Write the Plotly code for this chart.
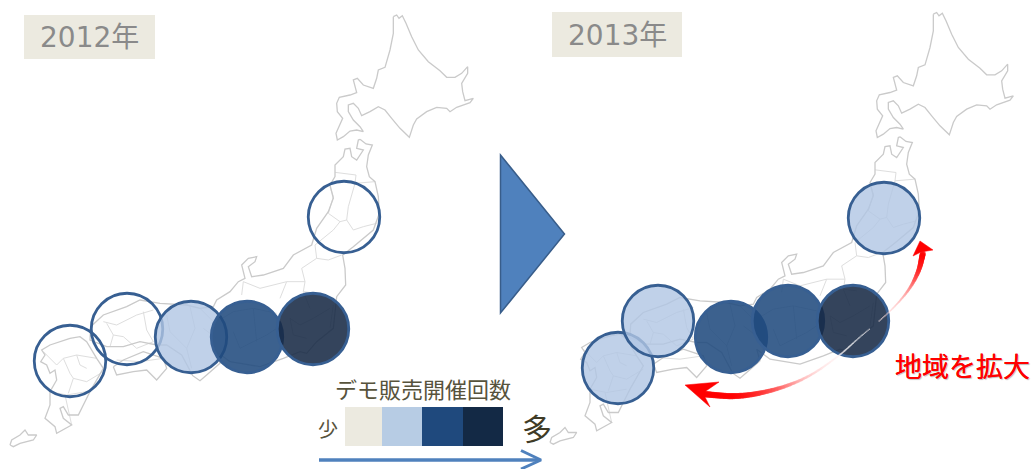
import numpy as np
import plotly.graph_objects as go

# Archipelago outlines, in map units (three units per pixel)
HOKKAIDO = [(1180,50),(1190,45),(1197,55),(1207,47),(1218,70),(1235,110),(1255,150),(1285,185),(1320,212),(1340,232),(1365,232),(1385,220),(1403,200),(1403,220),(1385,250),(1388,275),(1395,302),(1420,295),(1410,308),(1385,318),(1370,322),(1350,335),(1340,325),(1310,322),(1280,335),(1250,357),(1240,375),(1228,412),(1200,385),(1175,355),(1155,330),(1135,320),(1110,335),(1085,347),(1075,325),(1060,310),(1045,315),(1045,335),(1060,360),(1080,380),(1090,395),(1070,390),(1050,393),(1030,410),(1012,420),(1008,400),(1020,370),(1028,355),(1012,335),(1010,310),(1018,292),(1050,285),(1070,278),(1060,240),(1072,235),(1090,255),(1120,265),(1130,235),(1135,210),(1155,202),(1170,150),(1180,100),(1180,50)]
HONSHU = [(1080,418),(1098,432),(1117,435),(1105,465),(1100,500),(1108,530),(1125,545),(1135,590),(1138,640),(1120,690),(1060,740),(1028,765),(1035,805),(1037,855),(1010,890),(1000,985),(950,1025),(920,1060),(900,1055),(850,1075),(780,1100),(690,1085),(650,1055),(660,1090),(620,1125),(600,1142),(578,1127),(545,1065),(500,1035),(470,1035),(420,1025),(370,1040),(320,1040),(270,1020),(272,980),(310,945),(380,920),(420,900),(480,910),(560,915),(600,925),(640,920),(650,900),(690,875),(715,845),(735,835),(725,795),(745,775),(770,770),(765,785),(745,800),(755,830),(790,825),(850,805),(880,765),(935,735),(950,685),(985,635),(1000,595),(990,555),(1005,530),(1005,495),(1030,470),(1035,447),(1050,445),(1055,470),(1070,480),(1090,450),(1070,445),(1075,420),(1080,418)]
SHIKOKU = [(340,1100),(370,1080),(430,1055),(490,1075),(500,1105),(470,1140),(440,1110),(400,1115),(350,1125),(340,1100)]
KYUSHU = [(210,1015),(180,1025),(150,1035),(125,1050),(135,1065),(122,1085),(140,1095),(150,1120),(165,1110),(170,1140),(150,1175),(150,1215),(135,1255),(165,1280),(170,1300),(215,1275),(190,1255),(180,1225),(190,1220),(205,1245),(235,1245),(260,1195),(270,1175),(310,1105),(290,1075),(260,1025),(240,1010),(210,1015)]
OKINAWA = [(30,1335),(35,1320),(60,1305),(75,1290),(85,1305),(110,1305),(100,1320),(60,1330),(40,1340),(30,1335)]
COASTS = [HOKKAIDO, HONSHU, SHIKOKU, KYUSHU, OKINAWA]

# Prefecture borders, same units
BORDERS = [
    [(1005,517),(1068,525),(1065,550),(1125,545)],
    [(1065,550),(1045,620),(1040,660),(1060,690),(1090,680),(1130,670)],
    [(990,560),(1000,590),(985,640),(1020,665),(1040,660)],
    [(1020,665),(1000,690),(945,735),(950,775),(985,780),(1025,765)],
    [(950,775),(905,805),(915,845),(910,875),(950,880)],
    [(915,845),(860,845),(780,865),(730,845),(725,885)],
    [(860,845),(840,895)],
    [(870,955),(900,975),(940,955),(990,925)],
    [(1000,915),(990,985)],
    [(870,955),(880,1005),(920,1015)],
    [(910,875),(930,925)],
    [(650,965),(700,935),(760,925),(830,940)],
    [(700,995),(720,1045),(760,1025),(800,1005),(830,985)],
    [(760,925),(770,1025)],
    [(570,920),(585,985),(560,1045),(575,1105)],
    [(500,945),(510,995),(560,1045)],
    [(610,985),(650,1015)],
    [(600,925),(640,965)],
    [(310,965),(350,975),(410,945),(460,930)],
    [(340,1005),(370,1010),(410,1045),(460,1025)],
    [(320,970),(340,1005),(330,1040)],
    [(430,935),(440,990),(460,1025)],
    [(350,1080),(420,1085),(490,1075)],
    [(130,1055),(170,1095),(190,1075),(230,1065),(290,1075)],
    [(230,1065),(240,1095),(260,1105)],
    [(220,1135),(260,1145),(310,1115)],
    [(190,1075),(210,1120),(220,1135),(205,1180)],
    [(150,1175),(200,1185),(260,1175)],
    [(195,1185),(215,1275)],
]

# Pixel shift of each panel's map
PANEL_X = [0, 540]
PANEL_Y = [0, -2.5]

# Regions ringed in each year, with their demo-sale level (0 = none ... 3 = most)
CIRCLE_X_2012 = [344, 70, 127, 191, 247, 313]
CIRCLE_Y_2012 = [217, 361, 329, 337, 337, 329]
LEVEL_2012 = [0, 0, 0, 1, 2, 3]
CIRCLE_X_2013 = [884, 618, 658, 731, 788, 853]
CIRCLE_Y_2013 = [218, 368, 321, 337, 321, 321]
LEVEL_2013 = [1, 1, 1, 2, 2, 3]
LEVEL_FILLS = ["rgba(255,255,255,0)", "rgba(176,198,227,0.8)",
               "rgba(31,73,125,0.87)", "rgba(22,40,68,0.87)"]
CIRCLE_EDGE = "#375F92"

# Legend
LEGEND_TITLE = "デモ販売開催回数"
LEGEND_LEFT = [345, 382, 422, 463]
LEGEND_RIGHT = [382, 422, 463, 503]
LEGEND_COLORS = ["#ECEAE0", "#B7CCE4", "#1F497D", "#132945"]

YEAR_LABELS = ["2012年", "2013年"]
YEAR_BOX_X = [(24, 155), (552, 682)]
YEAR_BOX_Y = [(15, 59), (12, 57)]

# Two-headed sweep: centre line in pixels, width, and fade toward white
ARC_X = [702, 737, 773, 807, 837, 860, 888, 907, 918, 923]
ARC_Y = [394, 396, 390, 377, 357, 337, 313, 292, 272, 253]
ARC_W = [6.5, 6, 4.5, 2.8, 2, 1.6, 1.6, 2.6, 4.5, 6]
ARC_FADE = [0, 0.02, 0.3, 0.75, 0.95, 1, 0.85, 0.6, 0.2, 0]
ARROW_HEADS = [[(685, 385), (719, 382), (703, 393), (710, 407)],
               [(920, 241), (933, 250), (921, 252), (913, 256)]]


def catmull_rom(values, steps=24):
    """Smooth curve through a list of control values."""
    v = np.array(values, dtype=float)
    v = np.concatenate(([2 * v[0] - v[1]], v, [2 * v[-1] - v[-2]]))
    out = []
    for i in range(1, len(v) - 2):
        t = np.linspace(0, 1, steps, endpoint=False)
        p0, p1, p2, p3 = v[i - 1], v[i], v[i + 1], v[i + 2]
        out.append(0.5 * (2 * p1 + (p2 - p0) * t + (2 * p0 - 5 * p1 + 4 * p2 - p3) * t ** 2
                          + (3 * p1 - p0 - 3 * p2 + p3) * t ** 3))
    return np.concatenate(out)


fig = go.Figure()


def add_line(xs, ys, color, width):
    fig.add_trace(go.Scatter(x=xs, y=ys, mode="lines", hoverinfo="skip", showlegend=False,
                             line=dict(color=color, width=width)))


# Base maps
for dx, dy in zip(PANEL_X, PANEL_Y):
    for border in BORDERS:
        a = np.array(border) / 3
        add_line(a[:, 0] + dx, a[:, 1] + dy, "#DEDEDE", 1)
    for coast in COASTS:
        a = np.array(coast) / 3
        add_line(a[:, 0] + dx, a[:, 1] + dy, "#CACACA", 1.3)

# Region circles
for xs, ys, levels in [(CIRCLE_X_2012, CIRCLE_Y_2012, LEVEL_2012),
                       (CIRCLE_X_2013, CIRCLE_Y_2013, LEVEL_2013)]:
    fig.add_trace(go.Scatter(
        x=xs, y=ys, mode="markers", hoverinfo="skip", showlegend=False,
        marker=dict(size=71.5, color=[LEVEL_FILLS[v] for v in levels],
                    line=dict(color=CIRCLE_EDGE, width=2.8))))

# Sweep with red ends fading to white in the middle, drawn as a dense run of dots
fx, fy = catmull_rom(ARC_X), catmull_rom(ARC_Y)
fw = np.maximum(catmull_rom(ARC_W), 1.4)
ff = np.clip(catmull_rom(ARC_FADE), 0, 1)
keep = ~((fx > 870) & (fx < 878))  # the sweep breaks briefly across the dark circle
sweep_colors = [f"rgb(255,{int(255 * f)},{int(255 * f)})" for f in ff[keep]]
fig.add_trace(go.Scatter(x=fx[keep], y=fy[keep], mode="markers", hoverinfo="skip", showlegend=False,
                         marker=dict(size=fw[keep], color=sweep_colors, line_width=0)))
for head in ARROW_HEADS:
    a = np.array(head + head[:1])
    fig.add_trace(go.Scatter(x=a[:, 0], y=a[:, 1], mode="lines", fill="toself", fillcolor="#FF0000",
                             line=dict(color="#FF0000", width=0.5), hoverinfo="skip", showlegend=False))

# Scale arrow below the legend
add_line([319, 540], [460, 460], "#4F81BD", 3.5)
add_line([521, 541, 521], [450.5, 460, 469], "#4F81BD", 3)

shapes = []
for (x0, x1), (y0, y1) in zip(YEAR_BOX_X, YEAR_BOX_Y):
    shapes.append(dict(type="rect", x0=x0, x1=x1, y0=y0, y1=y1, fillcolor="#ECEAE0",
                       line_width=0, layer="below"))
for x0, x1, c in zip(LEGEND_LEFT, LEGEND_RIGHT, LEGEND_COLORS):
    shapes.append(dict(type="rect", x0=x0, x1=x1, y0=407, y1=446, fillcolor=c, line_width=0))
# Panel-to-panel pointer
shapes.append(dict(type="path", path="M 500.5 155 L 564.5 234 L 500.5 313 Z",
                   fillcolor="#4F81BD", line=dict(color="#385D8A", width=1.5)))

CJK = "Noto Sans CJK JP"
WIDE = "DejaVu Sans, Noto Sans CJK JP"


def label(text, x, y, size, color, family=CJK, weight="normal", shadow=None):
    font = dict(family=family, size=size, color=color, weight=weight)
    if shadow:
        font["shadow"] = shadow
    return dict(text=text, x=x, y=y, xref="x", yref="y", showarrow=False,
                xanchor="center", yanchor="middle", font=font)


annotations = [
    label(YEAR_LABELS[0], 89, 37, 28, "#8A8A8A", WIDE),
    label(YEAR_LABELS[1], 617, 35, 28, "#8A8A8A", WIDE),
    label(LEGEND_TITLE, 423, 388, 22, "#57533C"),
    label("少", 328, 428, 20, "#57533C"),
    label("多", 537, 427, 30, "#3F3B26"),
    label("地域を拡大", 962, 365, 27, "#FF0000", shadow="0 0 0.6px #FF0000, 1px 1px 1px #BBBBBB"),
]

fig.update_layout(
    width=1032, height=469, margin=dict(l=0, r=0, t=0, b=0),
    paper_bgcolor="white", plot_bgcolor="white", showlegend=False,
    xaxis=dict(range=[0, 1032], visible=False, fixedrange=True),
    yaxis=dict(range=[469, 0], visible=False, fixedrange=True),
    shapes=shapes, annotations=annotations,
)

fig.write_html("out.html", config={"displayModeBar": False})
